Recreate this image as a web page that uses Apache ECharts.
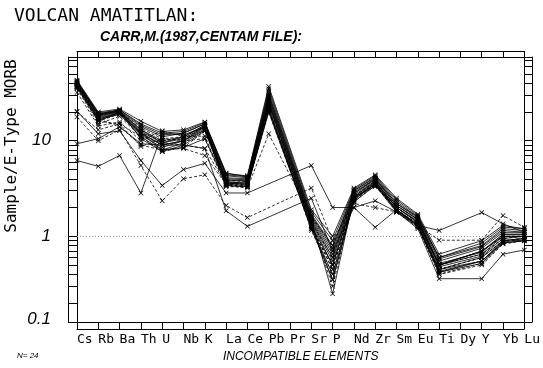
<!DOCTYPE html>
<html><head><meta charset="utf-8">
<script src="https://cdn.jsdelivr.net/npm/echarts@6/dist/echarts.min.js"></script>
<style>html,body{margin:0;padding:0;background:#fff}#c{width:543px;height:368px}</style>
</head><body><div id="c"></div>
<script>
const elements = ['Cs','Rb','Ba','Th','U','Nb','K','La','Ce','Pb','Pr','Sr','P','Nd','Zr','Sm','Eu','Ti','Dy','Y','Yb','Lu'];
const yTickLabels = ['10','1','0.1'];
const sampleCount = 24;
// Sample/E-Type MORB values, order of `elements`
const s1  = [42,19.5,21,15,12,12.5,15.5,4.5,4.3,37,null,1.9,1.0,3.2,4.4,2.5,1.7,0.65,null,0.9,1.3,1.2];
const s2  = [41,19,20.5,14,11,12,15,4.3,4.1,33,null,1.7,0.8,3.0,4.2,2.3,1.6,0.6,null,0.8,1.2,1.15];
const s3  = [40,18.5,20,13,10,11,14.5,4.0,3.9,30,null,1.6,0.7,2.9,4.0,2.2,1.55,0.55,null,0.75,1.1,1.1];
const s4  = [39,18,20,12.5,9.5,10.5,14,3.8,3.8,28,null,1.5,0.6,2.8,3.9,2.1,1.5,0.5,null,0.7,1.05,1.05];
const s5  = [38,17.5,19.5,12,9,10,14,3.7,3.6,26,null,1.45,0.55,2.7,3.8,2.0,1.45,0.5,null,0.65,1.0,1.0];
const s6  = [37,17,19,11.5,8.5,10,13.5,3.6,3.5,25,null,1.4,0.5,2.6,3.7,2.0,1.4,0.48,null,0.62,0.95,1.0];
const s7  = [43,20,21.5,16,12.5,13,15.7,4.6,4.2,35,null,1.8,0.9,3.1,4.3,2.4,1.65,0.6,null,0.85,1.25,1.2];
const s8  = [40,18,20,13.5,10.5,11,14,3.9,3.7,23,null,1.3,0.45,2.5,3.6,1.9,1.35,0.45,null,0.6,0.9,0.95];
const s9  = [39,17,19.5,12,9,10,13,3.5,3.4,21,null,1.25,0.4,2.4,3.5,1.85,1.3,0.43,null,0.55,0.88,0.92];
const s10 = [38,16.5,19,11,8,9.5,13,3.4,3.3,20,null,1.2,0.35,2.3,3.4,1.8,1.25,0.42,null,0.52,0.85,0.9];
const s11 = [41,19,21,14.5,11.5,12,15,4.4,4.2,31,null,1.65,0.75,3.0,4.1,2.2,1.6,0.58,null,0.78,1.15,1.1];
const s12 = [40,18.5,20.5,10.5,7.7,9,12.7,3.9,3.8,27,null,1.5,0.25,2.6,3.7,2.0,1.4,0.5,null,0.7,1.0,1.0];
const s13 = [37,16,19,12,10,10.5,14,3.6,3.5,24,null,1.35,0.3,2.5,3.5,1.9,1.3,0.45,null,0.6,0.9,0.95];
const s14 = [42,19,20.5,13,9.5,11,14.5,4.1,4.0,29,null,1.55,0.65,2.8,4.0,2.1,1.5,0.52,null,0.68,1.05,1.05];
const s15 = [32,14.3,15.7,10,12.7,11,11.2,3.4,3.2,11.8,null,1.6,0.8,2.6,3.3,2.1,1.5,0.5,null,0.7,1.0,1.0];
const s16 = [20.4,11.8,12.7,6.2,3.4,5,5.8,2.84,2.84,null,null,5.5,2.0,2.0,1.24,1.9,1.3,1.15,null,1.77,1.35,1.1];
const s17 = [17.7,10,13,5.5,2.35,4,4.4,2.1,1.57,null,null,3.2,0.9,2.2,2.0,1.8,1.3,0.91,null,0.91,1.65,1.24];
const s18 = [9.3,10.5,14,9.3,9,9,8.3,1.85,1.27,null,null,2.5,0.7,2.0,2.35,1.8,1.2,0.36,null,0.36,0.65,0.72];
const s19 = [6.2,5.4,7,2.84,12,11.5,14,3.7,3.6,25,null,1.3,0.5,2.5,3.5,1.9,1.35,0.45,null,0.55,0.85,0.9];
const s20 = [36,16,15,8.7,10.5,10,10.5,3.3,3.3,22,null,1.15,0.4,2.3,3.4,1.8,1.25,0.4,null,0.5,0.83,0.9];
const s21 = [37,17,14,9,8,8.3,7,3.5,3.4,20,null,1.2,0.5,2.4,3.6,1.9,1.3,0.45,null,0.6,0.9,0.95];
const s22 = [20,13,15,11,9.5,9,8.3,3.5,3.3,24,null,1.4,0.6,2.6,3.8,2.0,1.4,0.5,null,0.65,0.95,1.0];
const s23 = [36,16,20,12,8,8.5,10.5,3.6,3.5,22,null,1.3,0.35,2.5,3.6,1.9,1.3,0.42,null,0.55,0.9,0.95];
const s24 = [35,15,18,11,7.7,8.5,12.7,3.4,3.3,21,null,1.25,0.45,2.4,3.5,1.85,1.28,0.4,null,0.52,0.88,0.92];
const samples = [s1,s2,s3,s4,s5,s6,s7,s8,s9,s10,s11,s12,s13,s14,s15,s16,s17,s18,s19,s20,s21,s22,s23,s24];
const dashed = [false,false,false,false,false,false,false,true,false,false,false,false,true,false,true,false,true,false,false,true,true,true,false,true];

const yMin = 0.1268, yMax = 75.2;
const lMin = Math.log10(yMin), lMax = Math.log10(yMax);
const minorVals = [];
[0.1,1,10].forEach(d=>{for(let k=1;k<10;k++){const v=Math.log10(k*d); if(v>lMin && v<lMax) minorVals.push(v);}});
minorVals.push(lMin+1e-9, lMax-1e-9);
const labelVals = [1, 0, -0.866];

const X = 'path://M0,1L1,0L5,4L9,0L10,1L6,5L10,9L9,10L5,6L1,10L0,9L4,5Z';
const blk = {color:'#000', width:1};
const chart = echarts.init(document.getElementById('c'), null, {renderer:'canvas'});
const series = samples.map((d,i)=>({
  type:'line', data:d, xAxisIndex:0, yAxisIndex:0, connectNulls:true,
  symbol:X, symbolSize:5, showSymbol:true, animation:false,
  itemStyle:{color:'#000'},
  lineStyle:{color:'#000', width:0.8, type: dashed[i]?[3,2]:'solid'},
  z: 3
}));
series[0].markLine = {silent:true, symbol:'none', label:{show:false},
  lineStyle:{color:'#999', width:1, type:[1,2]}, data:[{yAxis:1}], z:1};

const catAxis = (pos, off, tick) => ({
  type:'category', data:elements, boundaryGap:false, position:pos, offset:off,
  axisLine:{show:true, onZero:false, lineStyle:blk}, axisTick:{show:tick>0, length:tick, inside:false, interval:0, lineStyle:blk},
  axisLabel:{show:false}, splitLine:{show:false}
});
const valAxis = (pos, off, tick) => ({
  type:'value', min:lMin, max:lMax, position:pos, offset:off,
  axisLine:{show:true, onZero:false, lineStyle:blk},
  axisTick:{show:tick>0, length:tick, inside:false, customValues:minorVals, lineStyle:blk},
  axisLabel:{show:false}, splitLine:{show:false}
});
const xa0 = catAxis('bottom',0,7);
xa0.axisLabel = {show:true, interval:0, align:'left', margin:11, color:'#000', fontFamily:'DejaVu Sans Mono', fontSize:13};
xa0.name = 'INCOMPATIBLE ELEMENTS'; xa0.nameLocation='middle'; xa0.nameGap=29;
xa0.nameTextStyle = {fontFamily:'Liberation Sans', fontStyle:'italic', fontSize:12, color:'#000'};
const ya1 = valAxis('left',0,9);
ya1.axisLabel = {show:true, customValues:labelVals, margin:26, color:'#000', fontFamily:'Liberation Sans', fontStyle:'italic', fontSize:17,
  formatter: v => v>0.5 ? yTickLabels[0] : (v>-0.5 ? yTickLabels[1] : yTickLabels[2])};

const option = {
  animation:false,
  backgroundColor:'#fff',
  title:[
    {text:'VOLCAN AMATITLAN:', left:14, top:7, padding:0, textStyle:{fontFamily:'DejaVu Sans Mono', fontSize:18, fontWeight:'normal', color:'#000'}},
    {text:'CARR,M.(1987,CENTAM FILE):', left:100, top:30, padding:0, textStyle:{fontFamily:'Liberation Sans', fontStyle:'italic', fontWeight:'bold', fontSize:14, color:'#000'}},
    {text:'N= '+sampleCount, left:17, top:352, padding:0, textStyle:{fontFamily:'Liberation Sans', fontStyle:'italic', fontWeight:'normal', fontSize:8, color:'#000'}}
  ],
  graphic:[{type:'text', x:12, y:146, rotation:Math.PI/2,
    style:{text:'Sample/E-Type MORB', fill:'#000', font:'16px "DejaVu Sans Mono"', textAlign:'center', textVerticalAlign:'middle'}}],
  grid:{left:77, right:16, top:57, bottom:42},
  xAxis:[xa0, catAxis('bottom',7,0), catAxis('top',0,6), catAxis('top',6,0)],
  yAxis:[
    {type:'log', logBase:10, min:yMin, max:yMax, show:false, splitLine:{show:false}},
    ya1, valAxis('left',9,0), valAxis('right',0,8), valAxis('right',8,0)
  ],
  series: series
};
chart.setOption(option);
</script></body></html>
